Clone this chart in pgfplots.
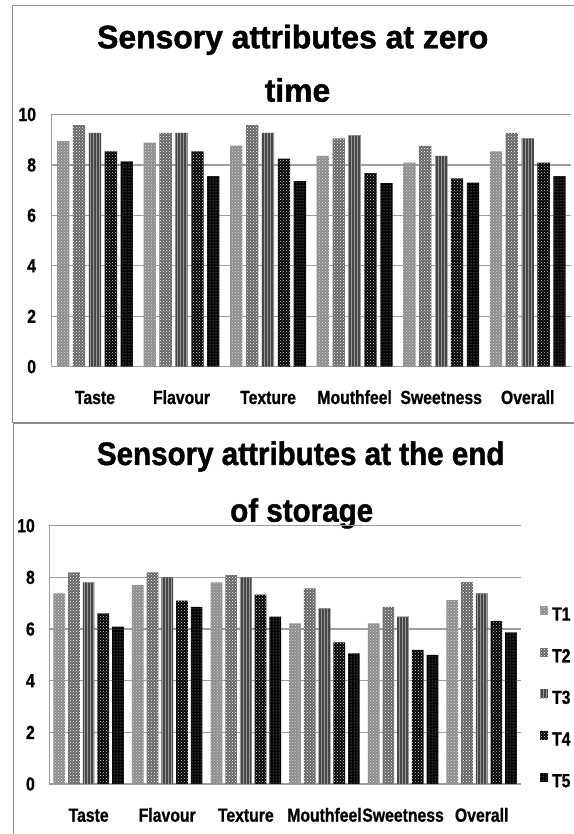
\documentclass[border=0pt]{standalone}
\usepackage{fontspec}
\setmainfont{Liberation Sans}
\newfontfamily\titlefontA[FakeStretch=0.98, FakeBold=1.3]{Liberation Sans Bold}
\newfontfamily\titlefontB[FakeStretch=0.91, FakeBold=1.3]{Liberation Sans Bold}
\newfontfamily\tickfam[FakeStretch=0.83, FakeBold=0.8]{Liberation Sans Bold}
\usepackage{pgfplots}
\pgfplotsset{compat=1.18}
\usetikzlibrary{patterns}
\newcommand\tickfont{\tickfam\fontsize{19}{22}\selectfont}
\newcommand\ttlfontA{\titlefontA\fontsize{32.5}{39}\selectfont}
\newcommand\ttlfontB{\titlefontB\fontsize{32.5}{39}\selectfont}
\pgfplotsset{
  tA/.style={fill=black!45, draw=none, postaction={pattern=crosshatch dots, pattern color=white!85!black}},
  tB/.style={fill=black!60, draw=none, postaction={pattern=crosshatch dots, pattern color=white}},
  tC/.style={fill=black!72, draw=none, postaction={pattern=vertical lines, pattern color=black!40}},
  tD/.style={fill=black, draw=none, postaction={pattern=crosshatch dots, pattern color=white!80!black}},
  tE/.style={fill=black, draw=none, postaction={pattern=dots, pattern color=white!85!black}},
  common/.style={
    scale only axis, anchor=south west,
    xmin=-0.5, xmax=5.5, ymin=0, ymax=10,
    ytick={0,2,...,10}, xtick={0,...,5},
    xticklabels={Taste,Flavour,Texture,Mouthfeel,Sweetness,Overall},
    axis lines*=left,
    axis line style={black!38, line width=1.2pt},
    major tick length=0pt,
    ymajorgrids, grid style={black!38, line width=1.2pt},
    /pgf/number format/assume math mode=true,
    tick label style={font=\tickfont, inner sep=0pt},
    xticklabel style={anchor=base},
    yticklabel style={anchor=east},
  },
}
\begin{document}
\begin{tikzpicture}[x=1pt,y=1pt]
\useasboundingbox (0,0) rectangle (573,834);
% panel frames
\draw[black!45, line width=1.2pt] (12.7,828.3) rectangle (600,411.7);
\draw[black!45, line width=1.2pt] (13.3,411) rectangle (600,-20);
% titles
\node[anchor=base west, inner sep=0pt, font=\ttlfontA] at (97,834-48.3) {Sensory attributes at zero};
\node[anchor=base, inner sep=0pt, font=\ttlfontA] at (297.5,834-101.7) {time};
\node[anchor=base west, inner sep=0pt, font=\ttlfontB] at (96.7,834-465) {Sensory attributes at the end};
\node[anchor=base west, inner sep=0pt, font=\ttlfontB] at (230,834-521.7) {of storage};

\begin{axis}[common,
  at={(51.7pt,467.3pt)}, width=519.3pt, height=252.2pt,
  ybar=3.6pt, bar width=12.3pt,
  xticklabel style={yshift=-37.3pt},
  yticklabel style={xshift=-15.5pt},
]
\addplot[tA] coordinates {(0,8.94) (1,8.88) (2,8.77) (3,8.36) (4,8.09) (5,8.54)};
\addplot[tB] coordinates {(0,9.58) (1,9.27) (2,9.58) (3,9.05) (4,8.76) (5,9.27)};
\addplot[tC] coordinates {(0,9.27) (1,9.27) (2,9.27) (3,9.17) (4,8.36) (5,9.05)};
\addplot[tD] coordinates {(0,8.54) (1,8.54) (2,8.25) (3,7.68) (4,7.47) (5,8.09)};
\addplot[tE] coordinates {(0,8.14) (1,7.56) (2,7.36) (3,7.28) (4,7.30) (5,7.56)};
\end{axis}

\begin{axis}[common,
  at={(49.3pt,50pt)}, width=471.7pt, height=258.3pt,
  ybar=3pt, bar width=11.7pt,
  xticklabel style={yshift=-37.7pt},
  yticklabel style={xshift=-14.3pt},
  legend image code/.code={\fill[#1] (0pt,-1pt) rectangle (8pt,8pt);},
  legend style={draw=none, fill=none, at={(axis description cs:1.040,0.69)}, anchor=north west,
    inner sep=0pt, row sep=27pt, font=\tickfont,
    nodes={inner sep=0pt, text height=13.3pt, text depth=0pt},
    /tikz/every odd column/.append style={column sep=4pt}},
  legend cell align=left,
]
\addplot[tA] coordinates {(0,7.38) (1,7.70) (2,7.81) (3,6.22) (4,6.22) (5,7.12)};
\addplot[tB] coordinates {(0,8.19) (1,8.19) (2,8.09) (3,7.57) (4,6.86) (5,7.82)};
\addplot[tC] coordinates {(0,7.81) (1,8.00) (2,8.00) (3,6.80) (4,6.48) (5,7.38)};
\addplot[tD] coordinates {(0,6.61) (1,7.10) (2,7.33) (3,5.48) (4,5.19) (5,6.31)};
\addplot[tE] coordinates {(0,6.09) (1,6.86) (2,6.48) (3,5.06) (4,5.00) (5,5.87)};
\legend{T1,T2,T3,T4,T5}
\end{axis}
\end{tikzpicture}
\end{document}
